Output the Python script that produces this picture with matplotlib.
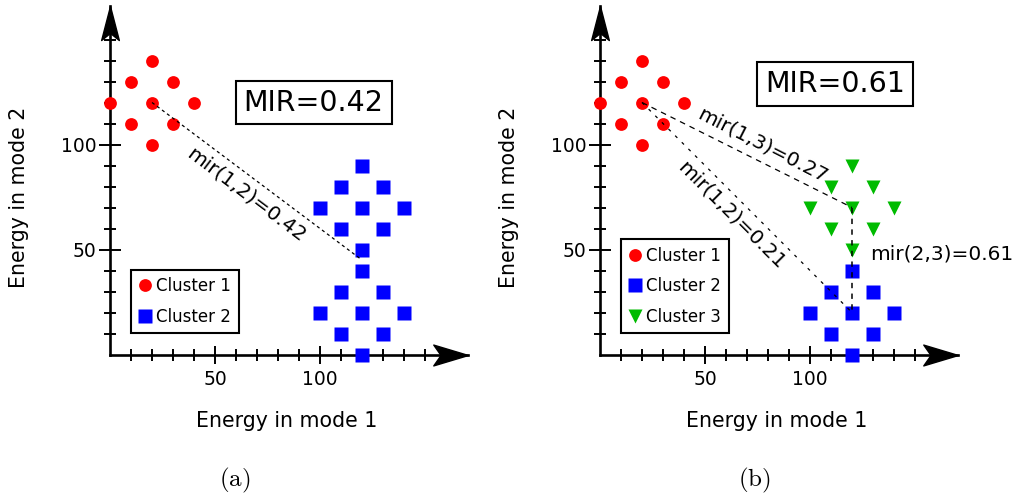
import matplotlib
matplotlib.use("Agg")
import matplotlib.pyplot as plt
from matplotlib.path import Path

plt.rcParams['font.family'] = ['DejaVu Sans']
plt.rcParams['mathtext.fontset'] = 'cm'

# ---------- data ----------
c1_x = [20, 10, 30, 0, 20, 40, 10, 30, 20]
c1_y = [140, 130, 130, 120, 120, 120, 110, 110, 100]

# upper diamond of squares / triangles
up_x = [120, 110, 130, 100, 120, 140, 110, 130, 120]
up_y = [90, 80, 80, 70, 70, 70, 60, 60, 50]

# lower diamond
lo_x = [120, 110, 130, 100, 120, 140, 110, 130, 120]
lo_y = [40, 30, 30, 20, 20, 20, 10, 10, 0]

x_major = [50, 100]
x_minor = [10, 20, 30, 40, 60, 70, 80, 90, 110, 120, 130, 140, 150]
y_major = [50, 100]
y_minor = [10, 20, 30, 40, 60, 70, 80, 90, 110, 120, 130, 140, 150]

# dashed links: (x0, x1), (y0, y1)
link_a = ([20, 120], [120, 45])
link_b13 = ([20, 120], [120, 70])
link_b12 = ([20, 120], [120, 20])
link_b23 = ([120, 120], [70, 20])

W, H = 1019, 498
XMAX, YMAX = 170.5, 166
PX = 2.1  # pixels per data unit

RED, BLUE, GREEN = '#ff0000', '#0000ff', '#00bb00'

# arrowheads as marker paths
arrow_right = Path([(0, 0), (-1, 0.3), (-0.79, 0), (-1, -0.3), (0, 0)],
                   [Path.MOVETO, Path.LINETO, Path.LINETO, Path.LINETO, Path.CLOSEPOLY])
arrow_up = Path([(0, 0), (-0.26, -1), (0, -0.79), (0.26, -1), (0, 0)],
                [Path.MOVETO, Path.LINETO, Path.LINETO, Path.LINETO, Path.CLOSEPOLY])


def make_axes(fig, left_px):
    ax = fig.add_axes([left_px / W, (H - 354.5) / H, XMAX * PX / W, YMAX * PX / H])
    ax.set_xlim(0, XMAX)
    ax.set_ylim(0, YMAX)
    for s in ['top', 'right']:
        ax.spines[s].set_visible(False)
    for s in ['left', 'bottom']:
        ax.spines[s].set_linewidth(1.9)
        ax.spines[s].set_zorder(1)
    ax.set_xticks(x_major)
    ax.set_xticks(x_minor, minor=True)
    ax.set_yticks(y_major)
    ax.set_yticks(y_minor, minor=True)
    ax.tick_params(axis='x', which='major', direction='inout', length=13, width=1.4,
                   labelsize=13.5, pad=5)
    ax.tick_params(axis='y', which='major', direction='inout', length=16, width=1.4,
                   labelsize=13.5, pad=1.5)
    ax.tick_params(which='minor', direction='inout', length=9, width=1.4)
    ax.plot([XMAX], [0], marker=arrow_right, ms=50, color='black', clip_on=False, zorder=3)
    ax.plot([0], [YMAX], marker=arrow_up, ms=49, color='black', clip_on=False, zorder=3)
    return ax


def labels(fig, off):
    fig.text((19 + off) / W, 1 - 197 / H, 'Energy in mode 2', rotation=90,
             fontsize=14.8, ha='center', va='center')
    fig.text((286.5 + off) / W, 1 - 427 / H, 'Energy in mode 1',
             fontsize=14.8, ha='center', va='baseline')


def legend(ax):
    leg = ax.legend(loc='lower left', bbox_to_anchor=(9.8, 10.2), bbox_transform=ax.transData,
                    borderaxespad=0, fontsize=12, numpoints=1, handlelength=0.8,
                    handletextpad=0.3, borderpad=0.45, labelspacing=0.75,
                    fancybox=False, framealpha=1, edgecolor='black')
    leg.get_frame().set_linewidth(1.5)
    leg.set_zorder(6)


fig = plt.figure(figsize=(W / 100, H / 100), dpi=100)

# ---------- (a) ----------
ax = make_axes(fig, 110)
ax.plot(c1_x, c1_y, 'o', ls='none', ms=9.2, color=RED, mec='none',
        clip_on=False, zorder=4, label='Cluster 1')
ax.plot(up_x + lo_x, up_y + lo_y, 's', ls='none', ms=9.4, color=BLUE, mec='none',
        clip_on=False, zorder=4, label='Cluster 2')
ax.plot(link_a[0], link_a[1], color='black', lw=0.9, dashes=(2.5, 2.5), zorder=5)
ax.text(64.8, 76, 'mir(1,2)=0.42', fontsize=14.5, rotation=-37,
        rotation_mode='anchor', ha='center', va='center')
ax.text(97, 120, 'MIR=0.42', fontsize=20.5, ha='center', va='center', zorder=6,
        bbox=dict(boxstyle='square,pad=0.28', fc='white', ec='black', lw=1.5))
legend(ax)
labels(fig, 0)
fig.text(234.5 / W, 1 - 480 / H, r'$\mathrm{(a)}$', fontsize=18, ha='center', va='center')

# ---------- (b) ----------
ax = make_axes(fig, 600)
ax.plot(c1_x, c1_y, 'o', ls='none', ms=9.2, color=RED, mec='none',
        clip_on=False, zorder=4, label='Cluster 1')
ax.plot(lo_x, lo_y, 's', ls='none', ms=9.4, color=BLUE, mec='none',
        clip_on=False, zorder=4, label='Cluster 2')
ax.plot(up_x, up_y, 'v', ls='none', ms=10, color=GREEN, mec='none',
        clip_on=False, zorder=4, label='Cluster 3')
ax.plot(link_b13[0], link_b13[1], color='black', lw=0.9, dashes=(4.5, 4), zorder=5)
ax.plot(link_b12[0], link_b12[1], color='black', lw=0.9, dashes=(2.5, 5), zorder=5)
ax.plot(link_b23[0], link_b23[1], color='black', lw=1.1, dashes=(3.5, 3.5), zorder=5)
ax.text(77.6, 99.8, 'mir(1,3)=0.27', fontsize=14.5, rotation=-27,
        rotation_mode='anchor', ha='center', va='center')
ax.text(62.4, 66.4, 'mir(1,2)=0.21', fontsize=14.5, rotation=-45,
        rotation_mode='anchor', ha='center', va='center')
ax.text(128.6, 47.9, 'mir(2,3)=0.61', fontsize=14.5, ha='left', va='center')
ax.text(112, 129, 'MIR=0.61', fontsize=20.5, ha='center', va='center', zorder=6,
        bbox=dict(boxstyle='square,pad=0.28', fc='white', ec='black', lw=1.5))
legend(ax)
labels(fig, 490)
fig.text(754.5 / W, 1 - 480 / H, r'$\mathrm{(b)}$', fontsize=18, ha='center', va='center')

fig.savefig('out.png', dpi=100)
